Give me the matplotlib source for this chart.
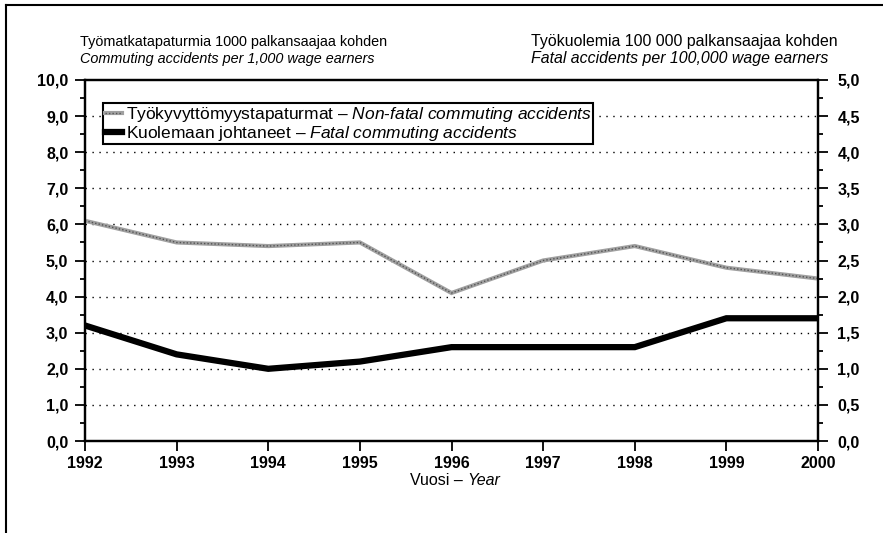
import matplotlib
matplotlib.use('Agg')
import matplotlib.pyplot as plt
import numpy as np
from matplotlib.lines import Line2D
from matplotlib.ticker import FuncFormatter, MultipleLocator

# data
years = [1992, 1993, 1994, 1995, 1996, 1997, 1998, 1999, 2000]
nonfatal = [6.1, 5.5, 5.4, 5.5, 4.1, 5.0, 5.4, 4.8, 4.5]      # per 1000 wage earners (left axis)
fatal = [1.6, 1.2, 1.0, 1.1, 1.3, 1.3, 1.3, 1.7, 1.7]          # per 100 000 wage earners (right axis)

left_title = ['Työmatkatapaturmia 1000 palkansaajaa kohden',
              'Commuting accidents per 1,000 wage earners']
right_title = ['Työkuolemia 100 000 palkansaajaa kohden',
               'Fatal accidents per 100,000 wage earners']

FONT = 'Liberation Sans'
plt.rcParams['font.family'] = [FONT, 'DejaVu Sans']
plt.rcParams['mathtext.fontset'] = 'custom'
plt.rcParams['mathtext.rm'] = FONT
plt.rcParams['mathtext.it'] = FONT + ':italic'


def comma(v, pos):
    return f'{v:.1f}'.replace('.', ',')


fig = plt.figure(figsize=(8.83, 5.33), dpi=100)
ax = fig.add_axes([85 / 883, 1 - 441 / 533, 733 / 883, 361 / 533])
ax2 = ax.twinx()

# non-fatal: grey textured line
l1, = ax.plot(years, nonfatal, color='#a0a0a0', lw=3.0, solid_joinstyle='miter', zorder=3)
l1b, = ax.plot(years, nonfatal, color='#2a2a2a', lw=1.0, dashes=(1, 1.5), alpha=0.65, zorder=4)
l2, = ax2.plot(years, fatal, color='black', lw=4.5, solid_joinstyle='miter', zorder=3)

ax.set_xlim(1992, 2000)
ax.set_ylim(0, 10)
ax2.set_ylim(0, 5)
ax.set_xticks(years)
ax.yaxis.set_major_locator(MultipleLocator(1))
ax.yaxis.set_minor_locator(MultipleLocator(0.5))
ax2.yaxis.set_major_locator(MultipleLocator(0.5))
ax2.yaxis.set_minor_locator(MultipleLocator(0.25))
ax.yaxis.set_major_formatter(FuncFormatter(comma))
ax2.yaxis.set_major_formatter(FuncFormatter(comma))

for a in (ax, ax2):
    for s in a.spines.values():
        s.set_linewidth(1.6)
ax.tick_params(axis='y', which='major', length=7, width=1.3, pad=5, labelsize=11.5)
ax.tick_params(axis='y', which='minor', length=3.5, width=1.3)
ax2.tick_params(axis='y', which='major', length=7, width=1.3, pad=7, labelsize=11.5)
ax2.tick_params(axis='y', which='minor', length=3.5, width=1.3)
ax.tick_params(axis='x', length=7, width=1.3, pad=4, labelsize=11.5)
for lab in ax.get_xticklabels() + ax.get_yticklabels() + ax2.get_yticklabels():
    lab.set_fontweight('bold')

for v in range(1, 10):
    ax.axhline(v, color='black', lw=1, ls=(0, (1, 4)), zorder=1)

ax.text(0.521, -0.088, 'Vuosi – ', transform=ax.transAxes, ha='right', va='top', fontsize=11.5)
ax.text(0.521, -0.088, 'Year', transform=ax.transAxes, ha='left', va='top', fontsize=11.5,
        style='italic')

labels = [r'Työkyvyttömyystapaturmat – $\mathit{Non\text{-}fatal\ commuting\ accidents}$',
          r'Kuolemaan johtaneet – $\mathit{Fatal\ commuting\ accidents}$']
leg = ax.legend([(l1, l1b), l2], labels, loc='upper left',
                bbox_to_anchor=(18 / 733, 1 - 23 / 361), borderaxespad=0,
                fontsize=12.5, handlelength=1.0, handletextpad=0.2, borderpad=0.1,
                labelspacing=0.0, fancybox=False, framealpha=1, edgecolor='black')
leg.get_frame().set_linewidth(1.5)
leg.set_zorder(10)

fig.text(80 / 883, 1 - 46 / 533, left_title[0], fontsize=10.4)
fig.text(80 / 883, 1 - 63 / 533, left_title[1], fontsize=10.4, style='italic')
fig.text(531 / 883, 1 - 46 / 533, right_title[0], fontsize=11.4)
fig.text(531 / 883, 1 - 63 / 533, right_title[1], fontsize=11.4, style='italic')

# outer frame (top and left edges only)
fig.add_artist(Line2D([6 / 883, 1], [1 - 5 / 533, 1 - 5 / 533], color='black', lw=1.5,
                      transform=fig.transFigure))
fig.add_artist(Line2D([6 / 883, 6 / 883], [0, 1 - 5 / 533], color='black', lw=1.5,
                      transform=fig.transFigure))

fig.savefig('out.png', dpi=100)
